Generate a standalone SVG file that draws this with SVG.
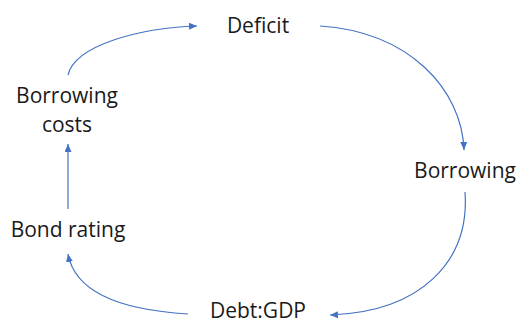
<svg xmlns="http://www.w3.org/2000/svg" width="518" height="323" viewBox="0 0 518 323">
<style>
text{font-family:"Open Sans","Noto Sans",sans-serif;font-size:21px;fill:#1a1a1a;text-anchor:middle}
.c{fill:none;stroke:#4472C4;stroke-width:1.2;marker-end:url(#ah)}
</style>
<defs>
<marker id="ah" markerUnits="userSpaceOnUse" markerWidth="9" markerHeight="8" refX="8" refY="3.5" orient="auto">
<path d="M0,0 L8,3.5 L0,7 z" fill="#4472C4"/>
</marker>
</defs>
<rect width="518" height="323" fill="#fff"/>
<g id="connectors">
<path class="c" d="M68,75 C75,45 140,28 197,26"/>
<path class="c" d="M320,26 C410,32 462,90 464,150"/>
<path class="c" d="M465,192 C470,262 420,312 330,315"/>
<path class="c" d="M188,314 C120,310 75,292 68,254"/>
<path class="c" d="M68,209 L68,144"/>
</g>
<g id="deficit"><text x="258" y="33">Deficit</text></g>
<g id="borrowing"><text x="465" y="178">Borrowing</text></g>
<g id="debt-gdp"><text x="258" y="318">Debt:GDP</text></g>
<g id="bond-rating"><text x="68" y="237">Bond rating</text></g>
<g id="borrowing-costs"><text x="67" y="103">Borrowing</text><text x="67" y="132">costs</text></g>
</svg>
